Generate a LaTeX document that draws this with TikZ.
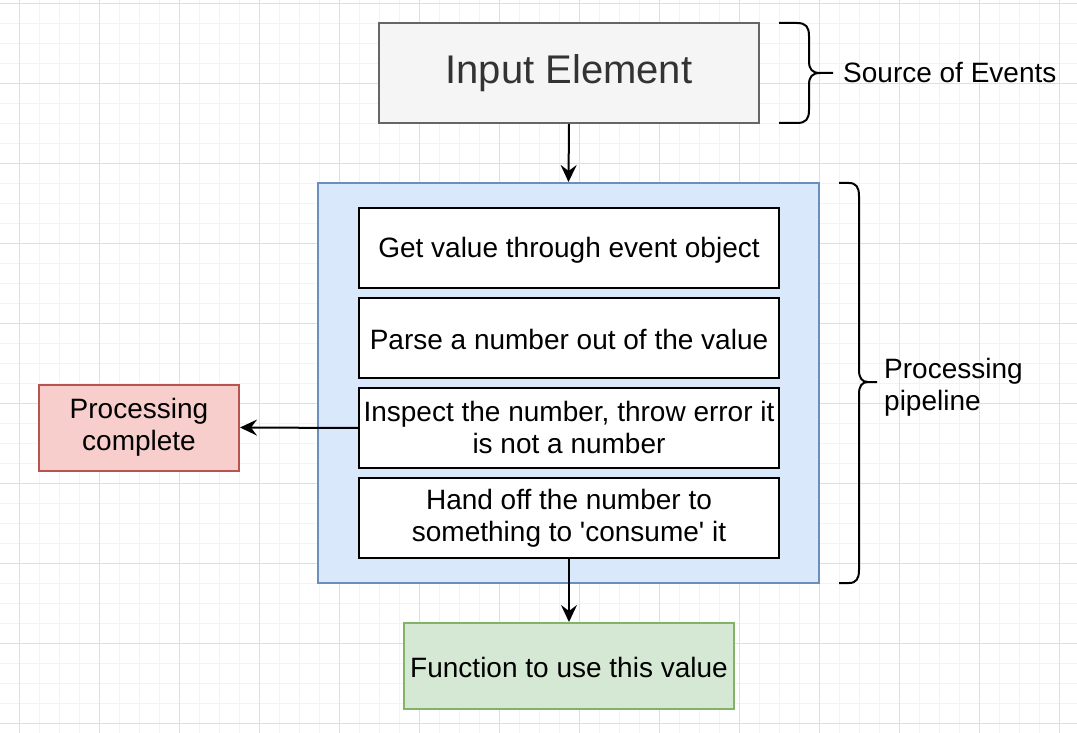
\documentclass[tikz,border=0pt]{standalone}
\usepackage{fontspec}
\setmainfont{Liberation Sans}
\usetikzlibrary{arrows.meta}
\definecolor{gridminor}{HTML}{F3F3F3}
\definecolor{gridmajor}{HTML}{DFDFDF}
\definecolor{grayfill}{HTML}{F5F5F5}
\definecolor{graydraw}{HTML}{666666}
\definecolor{graytext}{HTML}{333333}
\definecolor{bluefill}{HTML}{DAE8FC}
\definecolor{bluedraw}{HTML}{6C8EBF}
\definecolor{redfill}{HTML}{F8CECC}
\definecolor{reddraw}{HTML}{B85450}
\definecolor{greenfill}{HTML}{D5E8D4}
\definecolor{greendraw}{HTML}{82B366}
\tikzset{
  box/.style={rectangle, draw, line width=2pt, inner sep=0pt, align=center,
    font=\fontsize{28}{32}\selectfont,
    execute at begin node={\rule{0pt}{24pt}},
    execute at end node={\rule[-1.4pt]{0pt}{1.4pt}}},
  stepbox/.style={box, fill=white, draw=black, minimum width=420pt, minimum height=80pt},
  conn/.style={line width=2pt, -{Stealth[length=17pt,width=16pt,inset=6pt]}},
  brace/.style={line width=2pt, line join=round},
  lbl/.style={inner sep=0pt, align=left, font=\fontsize{28}{32}\selectfont}
}
\begin{document}
\begin{tikzpicture}[x=1pt,y=-1pt]
\useasboundingbox (0,0) rectangle (1077,733);
\fill[white] (0,0) rectangle (1077,733);
% grid
\foreach \gx in {19.5,39.5,...,1079.5} \draw[gridminor, line width=1pt] (\gx,0) -- (\gx,733);
\foreach \gy in {3.5,23.5,...,733} \draw[gridminor, line width=1pt] (0,\gy) -- (1077,\gy);
\foreach \gx in {19.5,99.5,...,1079.5} \draw[gridmajor, line width=1pt] (\gx,0) -- (\gx,733);
\foreach \gy in {3.5,83.5,...,733} \draw[gridmajor, line width=1pt] (0,\gy) -- (1077,\gy);

% nodes
\node[box, fill=grayfill, draw=graydraw, text=graytext, minimum width=380pt, minimum height=100pt,
  font=\fontsize{40}{48}\selectfont,
  execute at begin node={\rule{0pt}{30pt}},
  execute at end node={\rule[-1.4pt]{0pt}{1.4pt}}] (input) at (569,73) {Input Element};
\node[box, fill=bluefill, draw=bluedraw, minimum width=501pt, minimum height=400pt,
  execute at begin node={}, execute at end node={}] (pipe) at (568.5,383) {};
\node[stepbox] (s1) at (569,248) {Get value through event object};
\node[stepbox] (s2) at (569,338) {Parse a number out of the value};
\node[stepbox] (s3) at (569,428) {Inspect the number, throw error it\\is not a number};
\node[stepbox] (s4) at (569,518) {Hand off the number to\\something to \textquotesingle consume\textquotesingle{} it};
\node[box, fill=redfill, draw=reddraw, minimum width=200pt, minimum height=86pt] (done) at (139,427.5) {Processing\\complete};
\node[box, fill=greenfill, draw=greendraw, minimum width=330pt, minimum height=86pt] (fn) at (569,666) {Function to use this value};

% connectors
\draw[conn] (input.south) -- (pipe.north);
\draw[conn] (s3.west) -- (done.east);
\draw[conn] (s4.south) -- (fn.north);

% braces
\coordinate (b1tip) at (833,73);
\draw[brace] (779,23) -- (797,23) .. controls (806,23) and (809,27) .. (809,36)
  -- (809,61) .. controls (809,69) and (812,73) .. (820,73) -- (b1tip);
\draw[brace] (779,123) -- (797,123) .. controls (806,123) and (809,119) .. (809,110)
  -- (809,85) .. controls (809,77) and (812,73) .. (820,73);
\node[lbl, anchor=west] (src) at (843,73) {Source of Events};

\coordinate (b2tip) at (877,382);
\draw[brace] (839,183) -- (849,183) .. controls (856,183) and (859,187) .. (859,196)
  -- (859,370) .. controls (859,378) and (862,382) .. (868,382) -- (b2tip);
\draw[brace] (839,583) -- (849,583) .. controls (856,583) and (859,579) .. (859,570)
  -- (859,394) .. controls (859,386) and (862,382) .. (868,382);
\node[lbl, anchor=west] (proc) at (884,387) {Processing\\pipeline};
\end{tikzpicture}
\end{document}
